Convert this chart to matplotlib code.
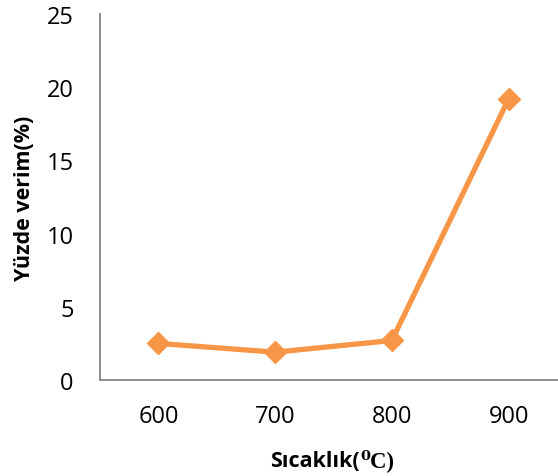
import matplotlib.pyplot as plt

temps = ['600', '700', '800', '900']
verim = [2.5, 1.9, 2.7, 19.2]
yticks = [0, 5, 10, 15, 20, 25]

plt.rcParams['font.family'] = ['Open Sans', 'DejaVu Sans']

fig = plt.figure(figsize=(5.58, 4.77), dpi=100)
ax = fig.add_axes([100 / 558, 96 / 477, 467 / 558, 366 / 477])

xs = range(len(temps))
ax.plot(xs, verim, color='#F79646', linewidth=3.8, marker='D',
        markersize=11, clip_on=False)

ax.set_xlim(-0.5, 3.5)
ax.set_ylim(0, 25)
ax.set_xticks(list(xs))
ax.set_xticklabels(temps)
ax.set_yticks(yticks)
ax.tick_params(length=0, labelsize=17, colors='black')
ax.tick_params(axis='y', pad=19)
ax.tick_params(axis='x', pad=17)

for s in ['top', 'right']:
    ax.spines[s].set_visible(False)
for s in ['left', 'bottom']:
    ax.spines[s].set_color('#868686')
    ax.spines[s].set_linewidth(1.3)

fig.text(25 / 558, 1 - 198 / 477, 'Yüzde verim(%)', rotation=90,
         ha='center', va='center', fontsize=15.5, fontweight='bold')

# x label: sans part + serif unit
fig.text(360 / 558, 1 - 467 / 477, 'Sıcaklık(', ha='right', va='baseline',
         fontsize=15.5, fontweight='bold')
fig.text(360 / 558, 1 - 467 / 477, '⁰C)', ha='left', va='baseline',
         fontsize=16.5, fontweight='bold',
         family=['Liberation Serif', 'DejaVu Serif'])

fig.savefig('out.png', dpi=100)
